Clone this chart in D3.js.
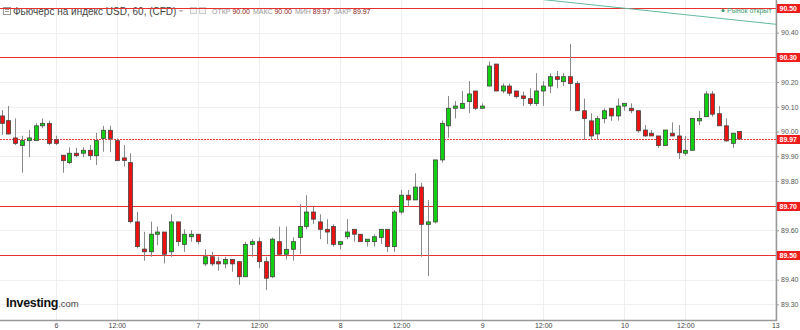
<!DOCTYPE html>
<html>
<head>
<meta charset="utf-8">
<script src="https://cdn.jsdelivr.net/npm/d3@7"></script>
<style>
  body { margin: 0; background: #fff; }
  svg { display: block; font-family: "Liberation Sans", Arial, sans-serif; }
</style>
</head>
<body>
<svg width="800" height="330"></svg>
<script>
// ---- Dados (velas de 60 min)
const opens = [
  90.063, 90.044, 89.974, 89.943, 89.963, 89.963, 90.023, 90.033, 89.966, 89.904,
  89.874, 89.912, 89.912, 89.924, 89.902, 89.972, 90.005, 89.963, 89.893, 89.874,
  89.634, 89.524, 89.513, 89.584, 89.593, 89.513, 89.634, 89.543, 89.574, 89.584,
  89.464, 89.493, 89.473, 89.464, 89.482, 89.473, 89.412, 89.543, 89.554, 89.473,
  89.412, 89.554, 89.503, 89.523, 89.571, 89.615, 89.674, 89.634, 89.604, 89.615,
  89.543, 89.574, 89.604, 89.584, 89.554, 89.554, 89.571, 89.604, 89.534, 89.674,
  89.742, 89.723, 89.775, 89.624, 89.634, 89.885, 90.023, 90.094, 90.094, 90.121,
  90.164, 90.094, 90.184, 90.273, 90.164, 90.184, 90.164, 90.144, 90.133, 90.113,
  90.164, 90.184, 90.222, 90.202, 90.222, 90.194, 90.084, 90.043, 89.990, 90.052,
  90.094, 90.063, 90.103, 90.094, 90.084, 90.006, 89.993, 89.982, 89.943, 89.993,
  89.982, 89.912, 89.924, 90.043, 90.060, 90.152, 90.072, 90.023, 89.952, 90.000
];
const highs = [
  90.087, 90.103, 90.053, 89.983, 90.006, 90.033, 90.053, 90.044, 89.983, 89.904,
  89.936, 89.934, 89.936, 89.945, 89.995, 90.023, 90.023, 89.972, 89.945, 89.912,
  89.674, 89.594, 89.635, 89.615, 89.593, 89.665, 89.634, 89.604, 89.601, 89.584,
  89.523, 89.513, 89.493, 89.493, 89.482, 89.473, 89.554, 89.564, 89.571, 89.493,
  89.571, 89.615, 89.615, 89.571, 89.706, 89.742, 89.696, 89.665, 89.645, 89.624,
  89.554, 89.645, 89.604, 89.584, 89.564, 89.584, 89.604, 89.604, 89.682, 89.763,
  89.763, 89.831, 89.793, 89.723, 89.885, 90.044, 90.144, 90.123, 90.164, 90.204,
  90.164, 90.114, 90.283, 90.273, 90.195, 90.195, 90.164, 90.161, 90.175, 90.236,
  90.204, 90.236, 90.245, 90.236, 90.354, 90.204, 90.133, 90.074, 90.063, 90.094,
  90.094, 90.134, 90.114, 90.114, 90.084, 90.026, 90.006, 89.982, 90.006, 90.037,
  90.026, 89.982, 90.053, 90.083, 90.164, 90.164, 90.103, 90.053, 89.993, 90.000
];
const lows = [
  89.986, 89.988, 89.945, 89.833, 89.896, 89.963, 90.013, 89.945, 89.945, 89.833,
  89.867, 89.896, 89.896, 89.885, 89.864, 89.918, 89.916, 89.882, 89.858, 89.628,
  89.527, 89.477, 89.493, 89.540, 89.466, 89.493, 89.536, 89.513, 89.554, 89.543,
  89.455, 89.455, 89.436, 89.446, 89.432, 89.379, 89.412, 89.493, 89.446, 89.358,
  89.406, 89.503, 89.482, 89.477, 89.504, 89.604, 89.626, 89.564, 89.545, 89.534,
  89.523, 89.564, 89.554, 89.554, 89.534, 89.534, 89.545, 89.513, 89.513, 89.665,
  89.696, 89.723, 89.493, 89.415, 89.628, 89.874, 89.975, 90.053, 90.094, 90.074,
  90.087, 90.094, 90.184, 90.164, 90.155, 90.144, 90.134, 90.103, 90.104, 90.104,
  90.104, 90.155, 90.175, 90.184, 90.084, 90.084, 89.966, 89.966, 89.966, 90.033,
  90.043, 90.044, 90.084, 90.074, 89.995, 89.979, 89.982, 89.934, 89.943, 89.982,
  89.889, 89.902, 89.924, 90.026, 90.060, 90.060, 90.023, 89.959, 89.934, 89.970
];
const closes = [
  90.033, 89.990, 89.952, 89.963, 89.974, 90.023, 90.033, 89.952, 89.952, 89.882,
  89.912, 89.902, 89.924, 89.902, 89.963, 90.005, 89.972, 89.882, 89.883, 89.635,
  89.534, 89.513, 89.584, 89.593, 89.503, 89.634, 89.554, 89.584, 89.584, 89.554,
  89.493, 89.464, 89.464, 89.482, 89.464, 89.412, 89.543, 89.554, 89.473, 89.406,
  89.564, 89.503, 89.523, 89.554, 89.615, 89.674, 89.645, 89.604, 89.593, 89.543,
  89.554, 89.593, 89.584, 89.554, 89.564, 89.574, 89.604, 89.534, 89.674, 89.742,
  89.723, 89.775, 89.624, 89.634, 89.885, 90.033, 90.094, 90.103, 90.114, 90.152,
  90.094, 90.103, 90.265, 90.164, 90.184, 90.155, 90.141, 90.134, 90.113, 90.164,
  90.184, 90.222, 90.211, 90.222, 90.194, 90.084, 90.052, 89.982, 90.052, 90.084,
  90.063, 90.103, 90.114, 90.084, 90.003, 89.982, 89.982, 89.943, 90.006, 89.982,
  89.914, 89.924, 90.053, 90.053, 90.152, 90.070, 90.023, 89.962, 89.993, 89.970
];

// eixo X: posição (índice da vela) e rótulo
const tickIdx    = [8, 17, 29, 38, 50, 59, 71, 80, 92, 101, 114.3];
const tickLabels = ['6', '12:00', '7', '12:00', '8', '12:00', '9', '12:00', '10', '12:00', '13'];

// eixo Y
const yTicks = [89.30, 89.40, 89.50, 89.60, 89.70, 89.80, 89.90, 90.00, 90.10, 90.20, 90.30, 90.40, 90.50];
const levels = [90.50, 90.30, 89.70, 89.50];   // linhas horizontais vermelhas
const lastPrice = 89.97;

// linha de tendência (índice, preço)
const trendIdx   = [70, 114.4];
const trendPrice = [90.563, 90.434];

const title = 'Фьючерс на индекс USD, 60, (CFD)';
const ohlcLabels = ['ОТКР', 'МАКС', 'МИН', 'ЗАКР'];
const ohlcValues = ['90.00', '90.00', '89.97', '89.97'];

// ---- Tamanho do gráfico
const svg = d3.select('svg');
const plotW = 776, plotH = 320;

const x = d3.scaleLinear().domain([-0.25, 114.4]).range([0, plotW]);
const y = d3.scaleLinear().domain([89.50, 90.50]).range([255, 8]);

const candles = opens.map((o, i) => ({ i, o, h: highs[i], l: lows[i], c: closes[i] }));

svg.append('defs').append('clipPath').attr('id', 'plot-clip')
  .append('rect').attr('width', plotW).attr('height', plotH);

// grid
const grid = svg.append('g');
grid.selectAll('.hg')
  .data(yTicks)
  .join('line')
  .attr('x1', 0).attr('x2', plotW)
  .attr('y1', d => Math.round(y(d)) + 0.5).attr('y2', d => Math.round(y(d)) + 0.5)
  .style('stroke', '#efefef');
grid.selectAll('.vg')
  .data(tickIdx)
  .join('line')
  .attr('x1', d => Math.round(x(d)) + 0.5).attr('x2', d => Math.round(x(d)) + 0.5)
  .attr('y1', 0).attr('y2', plotH)
  .style('stroke', '#efefef');

// ---- Cabeçalho
const head = svg.append('g');
head.append('rect')
  .attr('x', 3.5).attr('y', 7.5).attr('width', 7).attr('height', 7)
  .style('fill', '#fff').style('stroke', '#999');
[9.5, 11.5].forEach(v => head.append('line')
  .attr('x1', 5).attr('x2', 9).attr('y1', v).attr('y2', v).style('stroke', '#999'));
head.append('text')
  .attr('x', 13).attr('y', 14.5)
  .style('font-size', '10px').style('fill', '#444')
  .text(title);
head.append('path')
  .attr('d', 'M178.5,10 L183.5,10 L181,12.5 Z')
  .style('fill', '#bbb');
[190, 199].forEach(v => head.append('rect')
  .attr('x', v + 0.5).attr('y', 7.5).attr('width', 6).attr('height', 6)
  .style('fill', '#f4f4f4').style('stroke', '#ccc'));
const ohlc = head.append('text').attr('x', 212).attr('y', 13.5).style('font-size', '7px');
ohlcLabels.forEach((lab, k) => {
  ohlc.append('tspan').attr('dx', k ? 3 : 0).style('fill', '#999').text(lab + ' ');
  ohlc.append('tspan').style('fill', '#8b2323').text(ohlcValues[k]);
});

// ---- Linhas horizontais
const lv = svg.append('g');
lv.selectAll('line')
  .data(levels)
  .join('line')
  .attr('x1', 0).attr('x2', plotW)
  .attr('y1', d => Math.round(y(d)) + 0.5).attr('y2', d => Math.round(y(d)) + 0.5)
  .style('stroke', '#e8312f').style('stroke-width', 1.2);
lv.append('line')
  .attr('x1', 0).attr('x2', plotW)
  .attr('y1', Math.round(y(lastPrice)) + 0.5).attr('y2', Math.round(y(lastPrice)) + 0.5)
  .style('stroke', '#f23a3a').style('stroke-dasharray', '2,1');

// tendência
svg.append('line')
  .attr('clip-path', 'url(#plot-clip)')
  .attr('x1', x(trendIdx[0])).attr('y1', y(trendPrice[0]))
  .attr('x2', x(trendIdx[1])).attr('y2', y(trendPrice[1]))
  .style('stroke', '#62b9a2').style('stroke-width', 1);

svg.append('circle').attr('cx', 723).attr('cy', 10.5).attr('r', 1.6).style('fill', '#3d9a6a');
svg.append('text')
  .attr('x', 727).attr('y', 13)
  .style('font-size', '7px').style('fill', '#3d9a6a')
  .text('Рынок открыт');

// ---- Velas
const cg = svg.append('g');
cg.selectAll('.wick')
  .data(candles)
  .join('line')
  .attr('class', 'wick')
  .attr('x1', d => Math.round(x(d.i)) + 0.5).attr('x2', d => Math.round(x(d.i)) + 0.5)
  .attr('y1', d => y(d.h)).attr('y2', d => y(d.l))
  .style('stroke', '#8a8a8a');
cg.selectAll('.body')
  .data(candles)
  .join('rect')
  .attr('class', 'body')
  .attr('x', d => Math.round(x(d.i)) - 1.5)
  .attr('y', d => y(Math.max(d.o, d.c)))
  .attr('width', 4)
  .attr('height', d => Math.max(1.5, Math.abs(y(d.o) - y(d.c))))
  .style('fill', d => d.c >= d.o ? '#10d010' : '#ee1111')
  .style('stroke', '#444')
  .style('stroke-width', 0.8);

// ---- Eixo Y
const yAxis = svg.append('g')
  .attr('transform', `translate(${plotW},0)`)
  .call(d3.axisRight(y).tickValues(yTicks).tickFormat(d3.format('.2f')).tickSize(3).tickPadding(2));
yAxis.select('.domain').remove();
yAxis.selectAll('.tick line').style('stroke', '#999');
yAxis.selectAll('text').style('font-size', '7px').style('fill', '#555').style('font-family', null);

// ---- Eixo X
const xAxis = svg.append('g')
  .attr('transform', `translate(0,${plotH})`)
  .call(d3.axisBottom(x).tickValues(tickIdx).tickFormat((d, k) => tickLabels[k]).tickSize(0).tickPadding(3));
xAxis.select('.domain').remove();
xAxis.selectAll('text').style('font-size', '7px').style('fill', '#444').style('font-family', null);

svg.append('line')
  .attr('x1', 0).attr('x2', plotW + 1).attr('y1', plotH + 0.5).attr('y2', plotH + 0.5)
  .style('stroke', '#999').style('stroke-width', 1.5);
svg.append('line')
  .attr('x1', plotW + 0.5).attr('x2', plotW + 0.5).attr('y1', 0).attr('y2', plotH + 1)
  .style('stroke', '#999').style('stroke-width', 1.5);

// rótulos vermelhos
const tags = svg.append('g');
const tagVals = levels.concat([lastPrice]);
tags.selectAll('rect')
  .data(tagVals)
  .join('rect')
  .attr('x', plotW + 1).attr('y', d => Math.round(y(d)) - 4)
  .attr('width', 23).attr('height', 9)
  .style('fill', '#f01d1d');
tags.selectAll('text')
  .data(tagVals)
  .join('text')
  .attr('x', plotW + 3.5).attr('y', d => Math.round(y(d)) + 3)
  .style('font-size', '7px').style('font-weight', 'bold').style('fill', '#fff')
  .text(d => d3.format('.2f')(d));

// ---- Logo
const logo = svg.append('text').attr('x', 6).attr('y', 307);
logo.append('tspan').style('font-size', '12.5px').style('font-weight', 'bold')
  .style('fill', '#111').style('letter-spacing', '-0.3px').text('Investing');
logo.append('tspan').style('font-size', '9.5px').style('fill', '#444').text('.com');
</script>
</body>
</html>
